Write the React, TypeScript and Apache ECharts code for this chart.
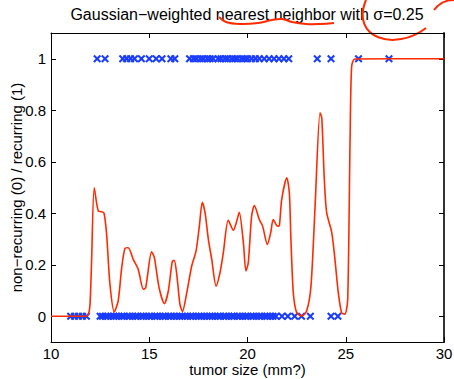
import React, { useEffect, useRef } from "react";
import * as echarts from "echarts";

const FONT = "'Liberation Sans', Arial, Helvetica, sans-serif";

const titleText = "Gaussian\u2212weighted nearest neighbor with \u03c3=0.25";
const xAxisName = "tumor size (mm?)";
const yAxisName = "non\u2212recurring (0) / recurring (1)";
const yTicks = [0, 0.2, 0.4, 0.6, 0.8, 1];

// tumor sizes of recurring cases (label 1)
const recurringSizes = [
  12.35, 12.75, 13.65, 13.85, 14.05, 14.25, 14.6, 15.0, 15.35, 15.65, 16.1, 16.3,
  17.05, 17.25, 17.4, 17.6, 17.75, 17.95, 18.1, 18.25, 18.5, 18.65, 18.85, 19.0,
  19.2, 19.35, 19.5, 19.7, 19.85, 20.0, 20.2, 20.4, 20.6, 20.85, 21.1, 21.35, 21.6,
  21.85, 22.1, 23.55, 24.25, 25.65, 27.2,
];

// tumor sizes of non-recurring cases (label 0)
const nonRecurringSizes = [
  11.0, 11.2, 11.4, 11.6, 11.8,
  12.5, 12.62, 12.78, 12.9, 13.05, 13.2, 13.32, 13.45, 13.6, 13.72, 13.88, 14.0,
  14.15, 14.3, 14.42, 14.58, 14.7, 14.85, 15.0, 15.12, 15.28, 15.4, 15.55, 15.7,
  15.82, 15.98, 16.1, 16.25, 16.4, 16.55, 16.68, 16.82, 16.95, 17.1, 17.22, 17.38,
  17.52, 17.65, 17.8, 17.95, 18.08, 18.2, 18.35, 18.5, 18.62, 18.78, 18.9, 19.05,
  19.2, 19.32, 19.48, 19.6, 19.75, 19.9, 20.02, 20.18, 20.3, 20.45, 20.6, 20.72,
  20.88, 21.0, 21.15, 21.3, 21.45, 21.75, 22.05, 22.4, 22.75, 23.2, 24.25, 24.6,
];

// Gaussian-weighted nearest neighbour estimate
const curveX = [
  10.0, 11.73, 11.88, 11.98, 12.06, 12.2, 12.41, 12.58, 12.7, 12.83, 13.0, 13.22,
  13.42, 13.6, 13.77, 13.93, 14.19, 14.44, 14.7, 14.82, 15.12, 15.26, 15.5, 15.77,
  15.97, 16.17, 16.27, 16.4, 16.56, 16.69, 16.91, 17.16, 17.38, 17.55, 17.7, 17.84,
  18.01, 18.18, 18.4, 18.6, 18.77, 19.02, 19.28, 19.45, 19.58, 19.79, 19.92, 20.04,
  20.21, 20.35, 20.6, 20.77, 21.01, 21.18, 21.31, 21.52, 21.62, 21.74, 22.0, 22.13,
  22.21, 22.33, 22.5, 22.76, 23.01, 23.23, 23.44, 23.69, 23.78, 23.91, 24.03, 24.29,
  24.45, 24.62, 24.79, 24.96, 25.1, 25.22, 25.3, 25.47, 30.0,
];
const curveY = [
  0.0, 0.0, 0.004, 0.04, 0.2, 0.499, 0.408, 0.406, 0.4, 0.318, 0.124, 0.017,
  0.06, 0.19, 0.264, 0.266, 0.22, 0.182, 0.105, 0.111, 0.25, 0.228, 0.111, 0.049,
  0.098, 0.212, 0.217, 0.163, 0.047, 0.018, 0.092, 0.195, 0.253, 0.35, 0.443, 0.402,
  0.298, 0.221, 0.117, 0.169, 0.247, 0.373, 0.334, 0.369, 0.404, 0.286, 0.176, 0.208,
  0.389, 0.43, 0.376, 0.35, 0.279, 0.324, 0.376, 0.35, 0.352, 0.453, 0.538, 0.479,
  0.298, 0.092, 0.014, 0.001, 0.02, 0.117, 0.428, 0.79, 0.77, 0.53, 0.402, 0.324,
  0.221, 0.092, 0.014, 0.008, 0.066, 0.686, 0.97, 0.999, 1.0,
];

const BLUE = "#1a3cff";
const RED = "#ff2a00";
const XMARK =
  "path://M0,1.8L1.8,0L5,3.2L8.2,0L10,1.8L6.8,5L10,8.2L8.2,10L5,6.8L1.8,10L0,8.2L3.2,5Z";

export default function App() {
  const ref = useRef<HTMLDivElement>(null);
  useEffect(() => {
    if (!ref.current) return;
    const chart = echarts.init(ref.current, null, { renderer: "svg", width: 454, height: 379 });
    const axisLine = { show: true, onZero: false, lineStyle: { color: "#000", width: 1 } };
    const tick = { show: true, inside: true, length: 5, lineStyle: { color: "#000" } };
    const labelStyle = { color: "#000", fontSize: 15, fontFamily: FONT };
    chart.setOption({
      animation: false,
      backgroundColor: "#fff",
      grid: {
        left: 51, right: 10, top: 33, bottom: 37,
        containLabel: false, outerBoundsMode: "none",
      },
      xAxis: [
        {
          type: "value", min: 10, max: 30, interval: 5, position: "bottom",
          axisLine, axisTick: tick, splitLine: { show: false },
          axisLabel: { ...labelStyle, margin: 4 },
          name: xAxisName, nameLocation: "middle", nameGap: 20, nameMoveOverlap: false,
          nameTextStyle: { ...labelStyle },
        },
        {
          type: "value", min: 10, max: 30, interval: 5, position: "top",
          axisLine, axisTick: tick, splitLine: { show: false },
          axisLabel: { show: false },
        },
      ],
      yAxis: [
        {
          type: "value", min: -0.1, max: 1.1, position: "left",
          axisLine, splitLine: { show: false },
          axisTick: { ...tick, customValues: yTicks },
          axisLabel: { ...labelStyle, margin: 5, customValues: yTicks },
          name: yAxisName, nameLocation: "middle", nameGap: 27, nameRotate: 90,
          nameMoveOverlap: false,
          nameTextStyle: { ...labelStyle },
        },
        {
          type: "value", min: -0.1, max: 1.1, position: "right",
          axisLine: { show: true, onZero: false, lineStyle: { color: "#333", width: 2 } },
          splitLine: { show: false },
          axisTick: { ...tick, customValues: yTicks },
          axisLabel: { show: false },
        },
      ],
      series: [
        {
          type: "scatter", xAxisIndex: 0, yAxisIndex: 0,
          data: nonRecurringSizes.map((v) => [v, 0]),
          symbol: XMARK, symbolSize: 8, itemStyle: { color: BLUE, opacity: 1 },
          z: 2,
        },
        {
          type: "scatter", xAxisIndex: 0, yAxisIndex: 0,
          data: recurringSizes.map((v) => [v, 1]),
          symbol: XMARK, symbolSize: 8, itemStyle: { color: BLUE, opacity: 1 },
          z: 2,
        },
        {
          type: "line", xAxisIndex: 0, yAxisIndex: 0,
          data: curveX.map((x, i) => [x, curveY[i]]),
          showSymbol: false, smooth: 0.25,
          lineStyle: { color: RED, width: 1.6 },
          z: 3,
        },
      ],
      graphic: [
        {
          type: "text", x: 247, y: 14,
          style: {
            text: titleText, fill: "#000", fontSize: 16, fontFamily: FONT,
            textAlign: "center", textVerticalAlign: "middle",
          },
        },
        {
          type: "polyline",
          shape: {
            points: [[219, 17], [226, 22], [240, 24], [258, 23], [272, 20], [282, 19],
              [292, 22], [306, 24], [320, 24], [334, 23]],
            smooth: 0.4,
          },
          style: { stroke: RED, lineWidth: 2, fill: "none" },
        },
        {
          type: "bezierCurve",
          shape: { x1: 366, y1: 0, cpx1: 350, cpy1: 38, cpx2: 395, cpy2: 52, x2: 426, y2: 28 },
          style: { stroke: RED, lineWidth: 2, fill: "none" },
        },
        {
          type: "bezierCurve",
          shape: { x1: 434, y1: 10, cpx1: 440, cpy1: 2, cpx2: 446, cpy2: 0, x2: 454, y2: 0 },
          style: { stroke: RED, lineWidth: 2, fill: "none" },
        },
      ],
    });
    return () => chart.dispose();
  }, []);
  return (
    <div
      ref={ref}
      style={{ position: "fixed", left: 0, top: 0, width: 454, height: 379 }}
    />
  );
}
